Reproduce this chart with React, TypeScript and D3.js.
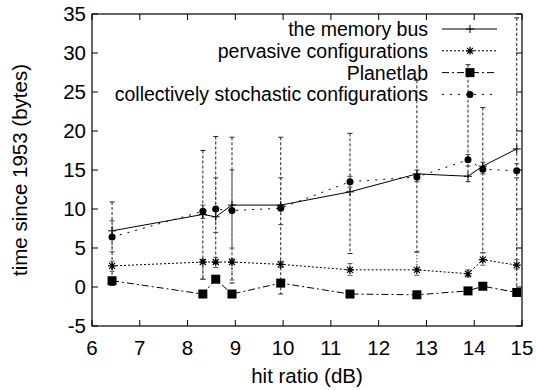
import React from "react";
import * as d3 from "d3";

// x positions shared by all series
const hitRatio = [6.42, 8.32, 8.59, 8.93, 9.95, 11.4, 12.8, 13.87, 14.18, 14.89];

const memoryBus = [7.2, 9.3, 9.0, 10.5, 10.5, 12.2, 14.5, 14.2, 15.5, 17.7];
const memoryBusLow = [0.2, 1.0, 3.0, 0.5, -0.9, 4.3, 4.5, 13.5, 4.4, -1.0];
const memoryBusHigh = [10.9, 17.5, 19.3, 19.2, 19.2, 19.7, 26.5, 28.5, 23.0, 34.5];

const pervasive = [2.7, 3.2, 3.2, 3.2, 2.9, 2.2, 2.2, 1.7, 3.5, 2.8];
const pervasiveLow = [2.0, 1.0, 2.5, 0.9, 2.5, 1.5, 1.5, 1.3, 2.8, 2.3];
const pervasiveHigh = [3.3, 3.5, 3.8, 3.6, 3.3, 3.0, 4.5, 2.2, 4.4, 3.5];

const planetlab = [0.8, -0.9, 1.0, -0.9, 0.5, -0.9, -1.0, -0.5, 0.1, -0.7];
const planetlabLow = [0.5, -1.2, 0.7, -1.2, 0.2, -1.2, -1.3, -0.8, -0.2, -1.0];
const planetlabHigh = [1.1, -0.6, 1.3, -0.6, 0.8, -0.6, -0.7, -0.2, 0.4, -0.4];

const stochastic = [6.4, 9.7, 10.0, 9.8, 10.1, 13.5, 14.1, 16.3, 15.1, 14.9];
const stochasticLow = [4.5, 8.8, 7.0, 5.0, 8.0, 12.8, 13.5, 15.5, 14.5, 14.0];
const stochasticHigh = [8.5, 10.5, 14.0, 15.0, 14.0, 14.2, 15.0, 17.0, 16.0, 15.8];

const seriesNames = [
  "the memory bus",
  "pervasive configurations",
  "Planetlab",
  "collectively stochastic configurations",
];

const xTicks = [6, 7, 8, 9, 10, 11, 12, 13, 14, 15];
const yTicks = [-5, 0, 5, 10, 15, 20, 25, 30, 35];

const W = 536;
const H = 390;
const left = 92, right = 522, top = 14, bottom = 326;
const font = "'Liberation Sans', Arial, Helvetica, sans-serif";
const fs = 20.5;
const legendFs = 19.5;

function Marker({ type, x, y }) {
  if (type === "plus") {
    return (
      <path d={`M${x - 4},${y}H${x + 4}M${x},${y - 4}V${y + 4}`} stroke="#000" strokeWidth={1} />
    );
  }
  if (type === "star") {
    return (
      <path
        d={`M${x - 4},${y}H${x + 4}M${x},${y - 4}V${y + 4}M${x - 3},${y - 3}L${x + 3},${y + 3}M${x - 3},${y + 3}L${x + 3},${y - 3}`}
        stroke="#000"
        strokeWidth={1.2}
      />
    );
  }
  if (type === "square") {
    return <rect x={x - 4.5} y={y - 4.5} width={9} height={9} fill="#000" />;
  }
  return <circle cx={x} cy={y} r={3.5} fill="#000" />;
}

export default function App() {
  const x = d3.scaleLinear().domain([6, 15]).range([left, right]);
  const y = d3.scaleLinear().domain([-5, 35]).range([bottom, top]);

  const series = [
    { name: seriesNames[0], vals: memoryBus, lo: memoryBusLow, hi: memoryBusHigh, dash: "none", bar: "3,2", barColor: "#222", marker: "plus" },
    { name: seriesNames[1], vals: pervasive, lo: pervasiveLow, hi: pervasiveHigh, dash: "2,2", bar: "1.5,1.5", barColor: "#555", marker: "star" },
    { name: seriesNames[2], vals: planetlab, lo: planetlabLow, hi: planetlabHigh, dash: "7,3,2,3", bar: "7,3,2,3", barColor: "#222", marker: "square" },
    { name: seriesNames[3], vals: stochastic, lo: stochasticLow, hi: stochasticHigh, dash: "2,6", bar: "2,3", barColor: "#444", marker: "circle" },
  ];

  const line = d3
    .line<number>()
    .x((_, i) => x(hitRatio[i]))
    .y((d) => y(d));

  const tick = 6;

  return (
    <svg width={W} height={H} style={{ position: "absolute", left: 0, top: 0 }} fontFamily={font}>
      <rect width={W} height={H} fill="#fff" />

      {/* error bars */}
      {series.map((s, si) => (
        <g key={"e" + si} stroke={s.barColor} strokeWidth={1} strokeDasharray={s.bar}>
          {hitRatio.map((hv, i) => {
            const cx = x(hv);
            const y1 = y(Math.min(s.hi[i], 35));
            const y2 = y(Math.max(s.lo[i], -5));
            return (
              <g key={i}>
                <line x1={cx} x2={cx} y1={y1} y2={y2} />
                {s.hi[i] < 35 && <line x1={cx - 2.5} x2={cx + 2.5} y1={y1} y2={y1} strokeDasharray="none" />}
                <line x1={cx - 2.5} x2={cx + 2.5} y1={y2} y2={y2} strokeDasharray="none" />
              </g>
            );
          })}
        </g>
      ))}

      {/* lines + markers */}
      {series.map((s, si) => (
        <g key={"l" + si}>
          <path d={line(s.vals) || ""} fill="none" stroke="#000" strokeWidth={1} strokeDasharray={s.dash} />
          {s.vals.map((v, i) => (
            <Marker key={i} type={s.marker} x={x(hitRatio[i])} y={y(v)} />
          ))}
        </g>
      ))}

      {/* frame and ticks */}
      <rect x={left} y={top} width={right - left} height={bottom - top} fill="none" stroke="#000" strokeWidth={1.2} />
      {xTicks.map((t) => (
        <g key={"xt" + t}>
          <line x1={x(t)} x2={x(t)} y1={bottom} y2={bottom - tick} stroke="#000" />
          <line x1={x(t)} x2={x(t)} y1={top} y2={top + tick} stroke="#000" />
          <text x={x(t)} y={355} textAnchor="middle" fontSize={fs}>
            {t}
          </text>
        </g>
      ))}
      {yTicks.map((t) => (
        <g key={"yt" + t}>
          <line x1={left} x2={left + tick} y1={y(t)} y2={y(t)} stroke="#000" />
          <line x1={right} x2={right - tick} y1={y(t)} y2={y(t)} stroke="#000" />
          <text x={86} y={y(t) + 7} textAnchor="end" fontSize={fs}>
            {t}
          </text>
        </g>
      ))}

      {/* axis titles */}
      <text x={(left + right) / 2} y={383} textAnchor="middle" fontSize={fs}>
        hit ratio (dB)
      </text>
      <text transform={`translate(27,${(top + bottom) / 2}) rotate(-90)`} textAnchor="middle" fontSize={fs}>
        time since 1953 (bytes)
      </text>

      {/* legend */}
      {series.map((s, si) => {
        const ly = 29 + si * 21.8;
        return (
          <g key={"lg" + si}>
            <text x={428} y={ly + 7} textAnchor="end" fontSize={legendFs}>
              {s.name}
            </text>
            <line x1={442} x2={497} y1={ly} y2={ly} stroke="#000" strokeDasharray={s.dash} />
            <Marker type={s.marker} x={470} y={ly} />
          </g>
        );
      })}
    </svg>
  );
}
